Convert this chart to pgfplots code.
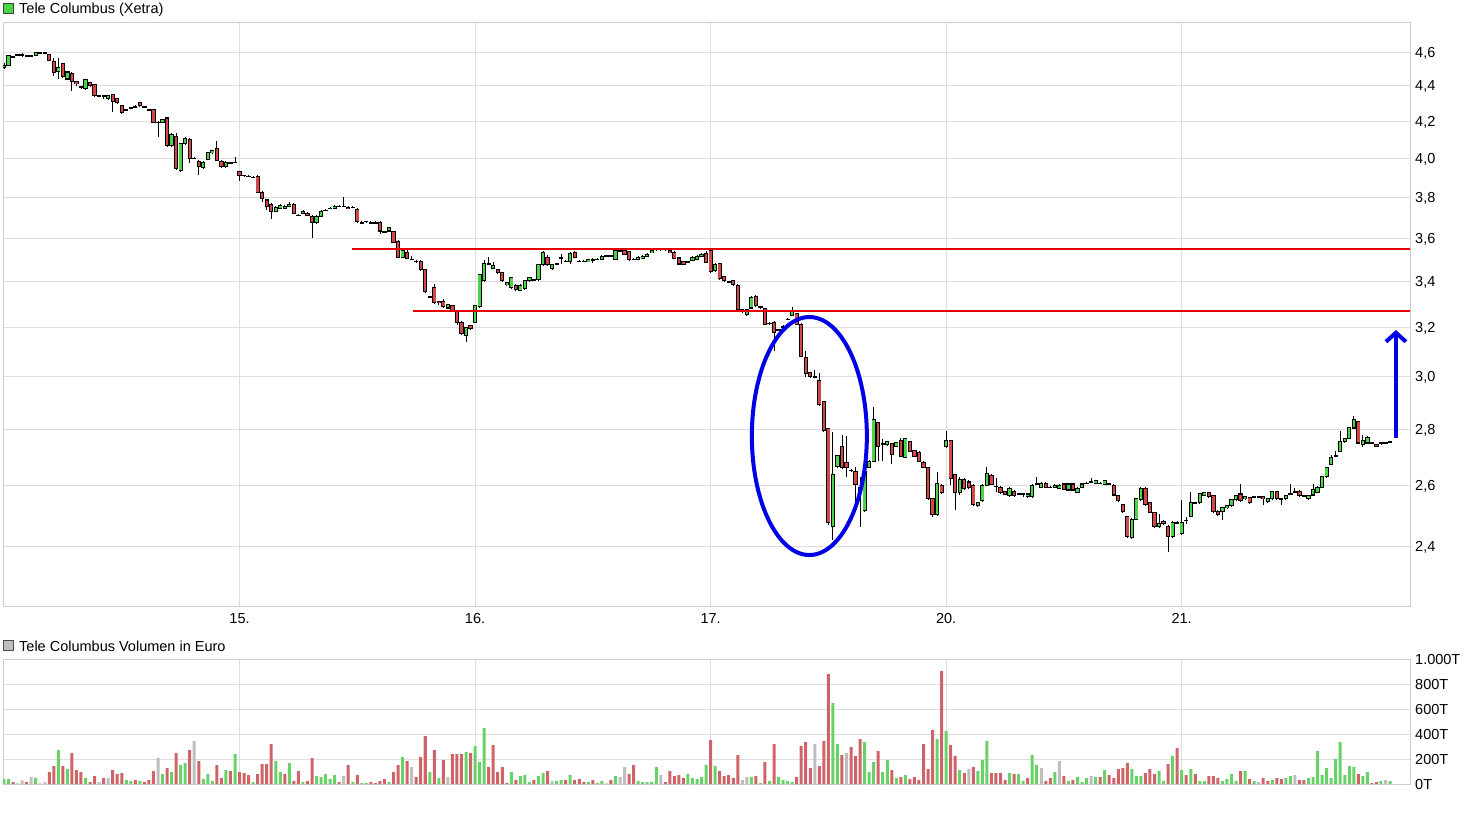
\documentclass[border=0pt]{standalone}
\usepackage{fontspec}
\setmainfont{Liberation Sans}
\usepackage{pgfplots}
\usepackage{pgfplotstable}
\pgfplotsset{compat=1.18}
\usetikzlibrary{arrows.meta}

\definecolor{candred}{RGB}{212,70,72}
\definecolor{candgreen}{RGB}{72,214,72}
\definecolor{volred}{RGB}{206,100,104}
\definecolor{volgreen}{RGB}{104,210,104}
\definecolor{volgray}{RGB}{190,190,190}
\definecolor{gridgray}{RGB}{222,222,222}
\definecolor{framegray}{RGB}{205,205,205}
\definecolor{markblue}{RGB}{0,0,230}
\definecolor{linered}{RGB}{230,0,0}

% 10-minute candles, 52 per trading day; v = volume in T (thousand euro), t = volume colour (1 up, -1 down, 0 unchanged)
\pgfplotstableread{
i o h l c v t
0 4.509 4.531 4.497 4.520 40 1
1 4.520 4.583 4.514 4.577 40 1
2 4.571 4.577 4.566 4.571 16 -1
3 4.583 4.589 4.577 4.583 5 1
4 4.583 4.594 4.571 4.583 29 0
5 4.577 4.583 4.571 4.577 16 -1
6 4.577 4.583 4.571 4.577 56 0
7 4.577 4.600 4.577 4.594 48 1
8 4.594 4.600 4.589 4.594 5 0
9 4.594 4.600 4.589 4.594 16 0
10 4.583 4.589 4.543 4.549 96 -1
11 4.543 4.566 4.457 4.480 144 -1
12 4.486 4.566 4.440 4.509 272 1
13 4.531 4.537 4.446 4.457 144 -1
14 4.440 4.486 4.434 4.480 120 1
15 4.474 4.480 4.371 4.423 248 -1
16 4.423 4.423 4.400 4.411 112 -1
17 4.394 4.400 4.383 4.394 96 -1
18 4.383 4.440 4.377 4.434 48 1
19 4.417 4.423 4.394 4.400 16 -1
20 4.406 4.411 4.337 4.343 64 -1
21 4.343 4.349 4.337 4.343 16 0
22 4.343 4.349 4.326 4.343 48 -1
23 4.326 4.349 4.320 4.343 48 0
24 4.349 4.354 4.251 4.309 112 -1
25 4.326 4.331 4.297 4.303 80 -1
26 4.286 4.291 4.240 4.246 88 -1
27 4.263 4.269 4.257 4.263 32 1
28 4.274 4.280 4.269 4.274 24 1
29 4.280 4.291 4.274 4.280 32 -1
30 4.303 4.309 4.280 4.286 24 1
31 4.280 4.286 4.274 4.280 16 -1
32 4.263 4.269 4.257 4.263 32 -1
33 4.263 4.269 4.189 4.194 104 -1
34 4.194 4.200 4.111 4.194 208 0
35 4.194 4.211 4.189 4.206 80 1
36 4.217 4.223 4.061 4.067 128 -1
37 4.067 4.133 4.061 4.128 96 1
38 4.117 4.133 3.940 3.945 248 -1
39 3.935 4.083 3.930 4.078 152 1
40 4.078 4.111 4.072 4.106 168 1
41 4.100 4.106 3.975 4.000 272 -1
42 4.000 4.005 3.995 4.000 344 0
43 3.985 3.990 3.915 3.955 184 -1
44 3.950 3.985 3.945 3.980 40 1
45 3.995 4.033 3.990 4.028 80 1
46 4.028 4.044 4.022 4.039 24 1
47 4.050 4.094 3.985 3.990 152 -1
48 3.985 3.990 3.950 3.955 48 -1
49 3.955 3.985 3.950 3.980 112 1
50 3.975 3.980 3.970 3.975 104 -1
51 3.980 4.005 3.975 3.980 240 1
52 3.930 3.935 3.880 3.910 96 -1
53 3.910 3.915 3.900 3.910 88 -1
54 3.905 3.910 3.900 3.905 72 -1
55 3.900 3.905 3.895 3.900 16 1
56 3.905 3.910 3.820 3.825 80 -1
57 3.825 3.830 3.775 3.795 160 -1
58 3.785 3.790 3.735 3.755 160 -1
59 3.765 3.770 3.690 3.730 320 -1
60 3.730 3.755 3.725 3.750 184 1
61 3.745 3.765 3.740 3.760 96 1
62 3.745 3.760 3.740 3.755 80 -1
63 3.755 3.775 3.750 3.765 168 1
64 3.765 3.770 3.715 3.720 24 -1
65 3.710 3.715 3.705 3.710 104 -1
66 3.720 3.735 3.715 3.730 16 1
67 3.720 3.725 3.705 3.710 24 -1
68 3.705 3.710 3.600 3.675 208 -1
69 3.675 3.710 3.670 3.705 64 1
70 3.705 3.735 3.700 3.730 56 1
71 3.735 3.740 3.730 3.735 80 1
72 3.745 3.750 3.740 3.745 40 1
73 3.745 3.760 3.740 3.755 72 1
74 3.755 3.760 3.750 3.755 16 -1
75 3.755 3.800 3.750 3.755 64 0
76 3.750 3.755 3.740 3.745 152 -1
77 3.750 3.755 3.745 3.750 16 1
78 3.740 3.745 3.675 3.680 72 -1
79 3.675 3.680 3.670 3.675 8 1
80 3.680 3.685 3.675 3.680 8 1
81 3.675 3.680 3.670 3.675 16 -1
82 3.675 3.680 3.670 3.675 8 -1
83 3.675 3.680 3.620 3.635 24 -1
84 3.630 3.635 3.625 3.630 40 -1
85 3.635 3.655 3.630 3.650 16 1
86 3.630 3.635 3.578 3.582 96 -1
87 3.582 3.591 3.507 3.511 152 -1
88 3.511 3.551 3.507 3.542 216 1
89 3.533 3.547 3.502 3.507 184 -1
90 3.502 3.516 3.498 3.502 136 0
91 3.493 3.498 3.484 3.493 56 -1
92 3.493 3.498 3.449 3.453 216 -1
93 3.453 3.458 3.351 3.356 384 -1
94 3.333 3.338 3.329 3.333 96 1
95 3.373 3.387 3.302 3.307 272 -1
96 3.311 3.316 3.298 3.307 48 1
97 3.311 3.324 3.284 3.289 192 -1
98 3.284 3.302 3.280 3.298 56 0
99 3.293 3.298 3.267 3.271 240 -1
100 3.271 3.276 3.213 3.222 240 -1
101 3.222 3.227 3.167 3.176 240 -1
102 3.167 3.204 3.139 3.200 256 1
103 3.209 3.213 3.192 3.196 248 -1
104 3.222 3.298 3.218 3.293 304 1
105 3.289 3.436 3.284 3.431 176 1
106 3.404 3.498 3.400 3.480 448 1
107 3.480 3.511 3.476 3.480 136 -1
108 3.462 3.489 3.458 3.471 312 -1
109 3.453 3.458 3.436 3.440 96 -1
110 3.440 3.444 3.400 3.404 136 -1
111 3.387 3.400 3.382 3.396 8 -1
112 3.373 3.422 3.369 3.418 96 1
113 3.382 3.387 3.360 3.364 32 -1
114 3.360 3.387 3.356 3.382 64 1
115 3.369 3.409 3.364 3.404 72 1
116 3.404 3.422 3.400 3.418 16 1
117 3.409 3.413 3.404 3.409 32 -1
118 3.409 3.480 3.404 3.476 64 1
119 3.476 3.538 3.471 3.533 88 1
120 3.511 3.520 3.471 3.476 104 -1
121 3.458 3.480 3.453 3.476 24 0
122 3.480 3.484 3.476 3.480 24 1
123 3.507 3.524 3.480 3.507 32 1
124 3.493 3.498 3.489 3.493 32 -1
125 3.493 3.533 3.480 3.529 72 1
126 3.533 3.538 3.507 3.511 32 -1
127 3.493 3.498 3.489 3.493 40 -1
128 3.493 3.498 3.489 3.493 16 -1
129 3.493 3.502 3.489 3.498 16 1
130 3.502 3.507 3.484 3.498 32 -1
131 3.502 3.507 3.498 3.502 8 1
132 3.502 3.520 3.498 3.516 24 1
133 3.516 3.520 3.511 3.516 5 0
134 3.516 3.520 3.511 3.516 32 -1
135 3.502 3.547 3.498 3.542 64 1
136 3.542 3.547 3.538 3.542 56 0
137 3.542 3.547 3.520 3.524 136 0
138 3.538 3.542 3.493 3.502 80 -1
139 3.502 3.507 3.498 3.502 152 -1
140 3.502 3.516 3.498 3.511 24 1
141 3.507 3.520 3.502 3.516 16 1
142 3.516 3.529 3.511 3.524 16 1
143 3.533 3.547 3.529 3.542 16 1
144 3.547 3.551 3.542 3.547 136 1
145 3.547 3.551 3.542 3.547 72 0
146 3.547 3.551 3.542 3.547 16 -1
147 3.542 3.547 3.529 3.533 104 -1
148 3.533 3.538 3.502 3.507 64 -1
149 3.507 3.511 3.476 3.480 72 -1
150 3.489 3.493 3.476 3.480 48 -1
151 3.489 3.493 3.484 3.489 80 1
152 3.498 3.516 3.493 3.511 48 1
153 3.502 3.520 3.498 3.516 40 1
154 3.516 3.529 3.511 3.524 56 1
155 3.529 3.542 3.484 3.489 152 1
156 3.542 3.551 3.440 3.444 352 -1
157 3.449 3.484 3.444 3.476 144 1
158 3.480 3.484 3.409 3.413 104 -1
159 3.422 3.427 3.400 3.404 64 -1
160 3.400 3.404 3.396 3.400 72 -1
161 3.404 3.409 3.382 3.387 48 -1
162 3.382 3.387 3.271 3.276 232 -1
163 3.276 3.280 3.262 3.276 32 0
164 3.258 3.280 3.249 3.276 56 0
165 3.284 3.338 3.280 3.329 56 1
166 3.333 3.342 3.289 3.293 64 -1
167 3.289 3.293 3.280 3.289 8 1
168 3.280 3.284 3.209 3.213 176 -1
169 3.218 3.222 3.209 3.218 24 1
170 3.222 3.227 3.102 3.180 320 -1
171 3.192 3.196 3.188 3.192 56 1
172 3.204 3.209 3.200 3.204 32 1
173 3.236 3.240 3.231 3.236 24 1
174 3.253 3.289 3.249 3.271 16 1
175 3.258 3.262 3.209 3.213 56 -1
176 3.213 3.218 3.078 3.082 304 -1
177 3.078 3.102 3.000 3.012 336 -1
178 3.016 3.020 2.996 3.000 128 -1
179 3.000 3.028 2.996 3.000 320 0
180 2.985 3.016 2.887 2.891 144 -1
181 2.902 2.906 2.789 2.793 344 -1
182 2.800 2.804 2.469 2.475 880 -1
183 2.462 2.789 2.420 2.636 648 1
184 2.665 2.705 2.658 2.702 320 1
185 2.735 2.778 2.655 2.662 232 -1
186 2.680 2.775 2.629 2.662 248 0
187 2.651 2.655 2.647 2.651 296 -1
188 2.647 2.665 2.541 2.604 224 -1
189 2.593 2.629 2.462 2.584 360 -1
190 2.515 2.651 2.511 2.647 336 1
191 2.662 2.687 2.658 2.684 96 1
192 2.684 2.883 2.680 2.834 176 1
193 2.823 2.827 2.684 2.738 264 -1
194 2.745 2.764 2.684 2.745 96 1
195 2.742 2.756 2.738 2.753 192 1
196 2.745 2.749 2.673 2.709 112 -1
197 2.738 2.753 2.735 2.749 48 1
198 2.756 2.767 2.698 2.702 56 -1
199 2.698 2.767 2.695 2.764 72 1
200 2.753 2.756 2.716 2.720 40 -1
201 2.720 2.724 2.698 2.702 56 -1
202 2.716 2.720 2.680 2.684 32 -1
203 2.680 2.684 2.658 2.662 320 -1
204 2.662 2.665 2.551 2.554 120 -1
205 2.554 2.557 2.495 2.502 432 -1
206 2.502 2.647 2.498 2.607 360 1
207 2.600 2.604 2.570 2.577 904 -1
208 2.735 2.793 2.731 2.756 424 1
209 2.756 2.760 2.600 2.625 312 -1
210 2.636 2.640 2.518 2.577 224 -1
211 2.574 2.629 2.567 2.618 112 1
212 2.618 2.625 2.584 2.590 88 -1
213 2.611 2.618 2.587 2.593 120 0
214 2.600 2.604 2.531 2.534 136 -1
215 2.531 2.544 2.525 2.541 104 1
216 2.548 2.604 2.544 2.600 192 1
217 2.600 2.662 2.597 2.640 344 1
218 2.633 2.640 2.600 2.604 88 -1
219 2.597 2.625 2.577 2.597 88 -1
220 2.593 2.597 2.570 2.574 88 -1
221 2.577 2.580 2.567 2.570 32 -1
222 2.564 2.593 2.561 2.590 88 1
223 2.580 2.584 2.561 2.564 80 -1
224 2.570 2.574 2.567 2.570 80 1
225 2.570 2.574 2.561 2.570 24 1
226 2.561 2.574 2.557 2.570 48 -1
227 2.561 2.604 2.557 2.600 232 1
228 2.604 2.629 2.600 2.604 152 1
229 2.593 2.611 2.590 2.607 128 0
230 2.607 2.611 2.590 2.593 24 -1
231 2.593 2.597 2.590 2.593 48 -1
232 2.593 2.604 2.590 2.600 96 1
233 2.590 2.604 2.587 2.600 184 0
234 2.604 2.607 2.584 2.587 64 -1
235 2.584 2.607 2.580 2.604 24 1
236 2.604 2.607 2.580 2.584 32 -1
237 2.577 2.593 2.574 2.590 56 1
238 2.593 2.607 2.590 2.604 16 1
239 2.607 2.611 2.604 2.607 48 1
240 2.611 2.625 2.607 2.611 64 0
241 2.607 2.618 2.604 2.615 56 1
242 2.607 2.611 2.604 2.607 56 -1
243 2.604 2.618 2.600 2.615 112 1
244 2.604 2.607 2.600 2.604 72 -1
245 2.600 2.604 2.564 2.567 48 -1
246 2.564 2.567 2.544 2.548 120 -1
247 2.534 2.538 2.508 2.511 128 -1
248 2.495 2.498 2.426 2.430 168 -1
249 2.426 2.489 2.423 2.485 120 1
250 2.485 2.557 2.482 2.554 64 1
251 2.551 2.593 2.548 2.590 64 1
252 2.590 2.593 2.531 2.534 88 -1
253 2.541 2.544 2.505 2.508 120 -1
254 2.508 2.511 2.459 2.462 80 -1
255 2.462 2.502 2.459 2.472 104 1
256 2.479 2.482 2.469 2.472 24 1
257 2.462 2.466 2.380 2.430 160 -1
258 2.430 2.479 2.426 2.475 224 1
259 2.475 2.479 2.472 2.475 288 -1
260 2.439 2.551 2.436 2.475 112 1
261 2.482 2.492 2.472 2.482 72 -1
262 2.495 2.577 2.492 2.541 120 1
263 2.541 2.544 2.538 2.541 80 -1
264 2.541 2.574 2.538 2.570 24 1
265 2.567 2.577 2.564 2.574 24 1
266 2.574 2.577 2.557 2.561 64 -1
267 2.564 2.567 2.508 2.511 64 -1
268 2.511 2.515 2.498 2.502 48 -1
269 2.511 2.528 2.482 2.525 24 1
270 2.525 2.534 2.521 2.531 40 1
271 2.531 2.554 2.528 2.551 80 1
272 2.551 2.567 2.548 2.564 24 1
273 2.570 2.604 2.544 2.548 104 -1
274 2.554 2.564 2.551 2.561 104 1
275 2.557 2.561 2.538 2.541 40 -1
276 2.561 2.564 2.557 2.561 24 1
277 2.561 2.564 2.557 2.561 16 0
278 2.561 2.564 2.534 2.554 48 -1
279 2.544 2.557 2.541 2.554 24 -1
280 2.554 2.580 2.551 2.577 32 1
281 2.577 2.580 2.551 2.554 48 -1
282 2.554 2.557 2.534 2.554 40 -1
283 2.554 2.567 2.551 2.564 48 1
284 2.570 2.604 2.567 2.570 64 1
285 2.577 2.590 2.574 2.577 72 0
286 2.580 2.584 2.561 2.564 32 -1
287 2.564 2.567 2.561 2.564 32 -1
288 2.554 2.567 2.551 2.564 48 1
289 2.567 2.604 2.564 2.584 56 1
290 2.577 2.597 2.574 2.593 264 1
291 2.593 2.633 2.590 2.629 72 1
292 2.629 2.665 2.625 2.662 128 1
293 2.673 2.705 2.669 2.695 48 1
294 2.702 2.720 2.698 2.702 200 1
295 2.720 2.793 2.716 2.753 336 1
296 2.753 2.767 2.749 2.764 72 1
297 2.767 2.808 2.764 2.804 144 1
298 2.804 2.849 2.800 2.834 136 1
299 2.827 2.830 2.745 2.749 80 -1
300 2.742 2.778 2.735 2.756 64 1
301 2.749 2.775 2.745 2.767 96 1
302 2.749 2.753 2.745 2.749 8 -1
303 2.742 2.745 2.735 2.738 16 -1
304 2.749 2.753 2.742 2.749 24 1
305 2.749 2.753 2.745 2.749 32 0
306 2.753 2.756 2.749 2.753 24 1
}\candles

\pgfplotsset{
  chartframe/.style={
    scale only axis, width=1407pt,
    xmin=-0.22, xmax=310.4,
    axis line style={framegray},
    grid=major, major grid style={gridgray, line width=0.8pt},
    major tick length=0pt,
    xtick={52,104,156,208,260},
    yticklabel pos=right,
    xticklabel style={anchor=north, inner sep=0pt, yshift=-7pt},
    yticklabel style={anchor=base west, inner sep=0pt, xshift=5pt, yshift=-5.2pt},
  },
  wick/.style={draw=none, mark=none, forget plot,
    error bars/y dir=both, error bars/y explicit, error bars/error mark=none,
    error bars/error bar style={draw=black, solid, line width=0.9pt}},
  body/.style 2 args={draw=none, mark=none, forget plot,
    error bars/y dir=both, error bars/y explicit, error bars/error mark=none,
    error bars/error bar style={draw=#1, solid, line width=#2}},
}

\begin{document}
\fontsize{14.5}{17}\selectfont
\begin{tikzpicture}
\useasboundingbox (0,0) rectangle (1468pt,823pt);

\filldraw[fill=candgreen, draw=black!75, line width=0.8pt] (3.8pt,809.3pt) rectangle (13.6pt,819.3pt);
\node[anchor=base west, inner sep=0pt] at (19pt,809pt) {Tele Columbus (Xetra)};
\filldraw[fill=volgray, draw=black!70, line width=0.8pt] (3.8pt,172.6pt) rectangle (13.6pt,182.6pt);
\node[anchor=base west, inner sep=0pt] at (19pt,171.5pt) {Tele Columbus Volumen in Euro};

% price panel (y = ln price, so the scale is logarithmic)
\begin{axis}[chartframe,
  at={(3pt,217pt)}, anchor=south west, height=584pt,
  ymin=0.796449, ymax=1.565578,
  xticklabels={15.,16.,17.,20.,21.},
  ytick={0.875469,0.955511,1.029619,1.098612,1.163151,1.223775,1.280934,1.335001,1.386294,1.435085,1.481605,1.526056},
  yticklabels={{2,4},{2,6},{2,8},{3,0},{3,2},{3,4},{3,6},{3,8},{4,0},{4,2},{4,4},{4,6}},
]
\addplot[wick] table[x=i, y expr={(ln(\thisrow{h})+ln(\thisrow{l}))/2},
  y error expr={(ln(\thisrow{h})-ln(\thisrow{l}))/2}] {\candles};
\addplot[body={black}{4.2pt}] table[x=i, y expr={(ln(\thisrow{o})+ln(\thisrow{c}))/2},
  y error expr={abs(ln(\thisrow{c})-ln(\thisrow{o}))/2+0.0008}] {\candles};
\addplot[restrict y to domain=0:5, body={candgreen}{2.4pt}] table[x=i,
  y expr={ifthenelse(\thisrow{c}>\thisrow{o},(ln(\thisrow{o})+ln(\thisrow{c}))/2,100)},
  y error expr={max(abs(ln(\thisrow{c})-ln(\thisrow{o}))/2-0.0006,0)}] {\candles};
\addplot[restrict y to domain=0:5, body={candred}{2.4pt}] table[x=i,
  y expr={ifthenelse(\thisrow{c}<\thisrow{o},(ln(\thisrow{o})+ln(\thisrow{c}))/2,100)},
  y error expr={max(abs(ln(\thisrow{c})-ln(\thisrow{o}))/2-0.0006,0)}] {\candles};

% resistance lines at 3.55 and 3.28
\addplot[linered, line width=2pt] coordinates {(76.8,1.26662) (310.4,1.26662)};
\addplot[linered, line width=2pt] coordinates {(90.3,1.18497) (310.4,1.18497)};

\draw[markblue, line width=4pt] (axis cs:177.8,1.0203) ellipse [x radius=57.5pt, y radius=119pt];
\draw[markblue, line width=4pt, -{Straight Barb[length=9pt, width=20pt]}]
  (axis cs:307.3,1.0177) -- (axis cs:307.3,1.1599);
\end{axis}

% volume panel
\begin{axis}[chartframe,
  at={(3pt,39pt)}, anchor=south west, height=125pt,
  ymin=0, ymax=1000,
  xticklabels={},
  ytick={0,200,400,600,800,1000},
  yticklabels={0T,200T,400T,600T,800T,1.000T},
]
\addplot[ybar, bar width=3pt, bar shift=0pt, fill=volgreen, draw=none, restrict y to domain=0:2000]
  table[x=i, y expr={ifthenelse(\thisrow{t}==1,\thisrow{v},-5)}] {\candles};
\addplot[ybar, bar width=3pt, bar shift=0pt, fill=volred, draw=none, restrict y to domain=0:2000]
  table[x=i, y expr={ifthenelse(\thisrow{t}==-1,\thisrow{v},-5)}] {\candles};
\addplot[ybar, bar width=3pt, bar shift=0pt, fill=volgray, draw=none, restrict y to domain=0:2000]
  table[x=i, y expr={ifthenelse(\thisrow{t}==0,\thisrow{v},-5)}] {\candles};
\end{axis}
\end{tikzpicture}
\end{document}
